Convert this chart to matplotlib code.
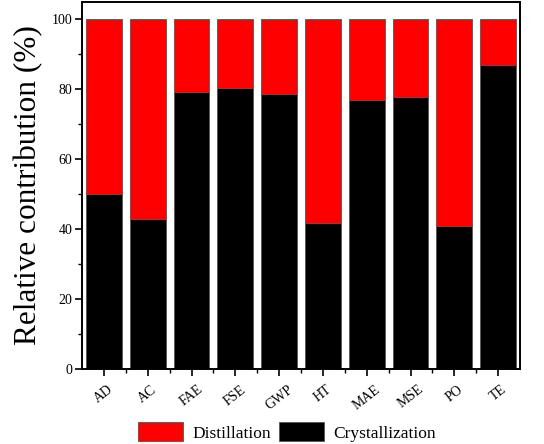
import matplotlib
matplotlib.use("Agg")
import matplotlib.pyplot as plt
from matplotlib.ticker import MultipleLocator, FixedLocator
import numpy as np

categories = ["AD", "AC", "FAE", "FSE", "GWP", "HT", "MAE", "MSE", "PO", "TE"]
crystallization = [50.0, 42.9, 79.2, 80.3, 78.7, 41.6, 77.0, 77.7, 41.0, 87.0]
distillation = [100 - c for c in crystallization]

plt.rcParams['font.family'] = ['Liberation Serif', 'DejaVu Serif']

fig = plt.figure(figsize=(5.44, 4.44), dpi=100)
ax = fig.add_axes([82/544, 75/444, 438/544, 367/444])

x = np.arange(len(categories))
w = 0.82
ax.bar(x, crystallization, w, color="black", edgecolor="#555555", linewidth=0.6, label="Crystallization")
ax.bar(x, distillation, w, bottom=crystallization, color="#ff0000", edgecolor="#555555", linewidth=0.6, label="Distillation")

ax.set_xlim(-0.5, len(categories) - 0.5)
ax.set_ylim(0, 104.9)
ax.set_xticks(x)
ax.set_xticklabels(categories, rotation=38, ha="center", fontsize=10)
ax.xaxis.set_minor_locator(FixedLocator(x[:-1] + 0.5))
ax.set_yticks([0, 20, 40, 60, 80, 100])
ax.yaxis.set_minor_locator(MultipleLocator(10))
ax.tick_params(axis="y", labelsize=10, pad=2)
ax.tick_params(axis="x", pad=5)
ax.tick_params(which="major", direction="out", length=5, width=1.2)
ax.tick_params(which="minor", direction="out", length=3, width=1.0)
for s in ax.spines.values():
    s.set_linewidth(1.4)
ax.set_ylabel("Relative contribution (%)", fontsize=22.5, labelpad=6)

handles, labels = ax.get_legend_handles_labels()
leg = fig.legend(handles[::-1], labels[::-1], loc="center", bbox_to_anchor=(287/544, 12/444),
                 ncol=2, frameon=False, fontsize=12.5, handlelength=2.6, handleheight=1.3,
                 columnspacing=0.5, handletextpad=0.5)

fig.savefig("out.png", dpi=100)
